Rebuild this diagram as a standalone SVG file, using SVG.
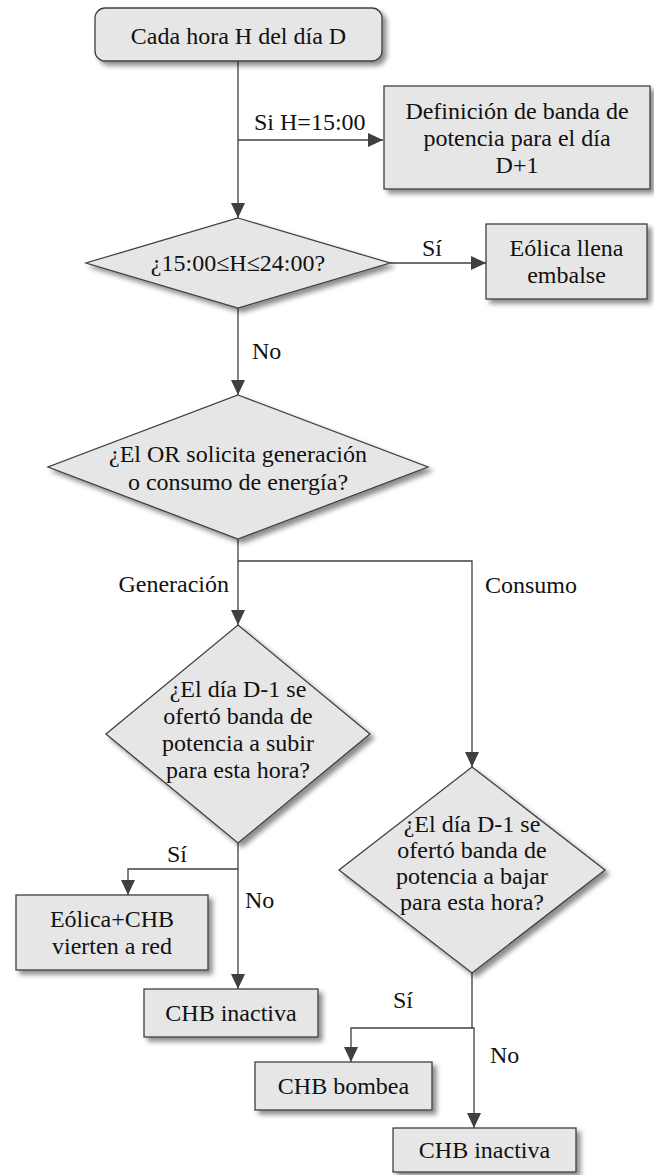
<svg xmlns="http://www.w3.org/2000/svg" width="654" height="1175" viewBox="0 0 654 1175">
<defs>
<style>
.n{fill:#e6e6e6;stroke:#404040;stroke-width:1.3;filter:url(#sh)}
.t{text-anchor:middle}
.c{fill:none;stroke:#404040;stroke-width:1.3}
</style>
<filter id="sh" x="-10%" y="-10%" width="130%" height="140%">
<feDropShadow dx="4" dy="4" stdDeviation="2.5" flood-color="#000" flood-opacity="0.45"/>
</filter>
<marker id="ar" viewBox="0 0 15 14" refX="15" refY="7" markerWidth="15" markerHeight="14" markerUnits="userSpaceOnUse" orient="auto">
<path d="M0,0 L15,7 L0,14 z" fill="#404040"/>
</marker>
</defs>
<rect width="654" height="1175" fill="#fff"/>
<g font-family="Liberation Serif, Times New Roman, Tinos, DejaVu Serif, serif" font-size="24" fill="#111">
<g id="connectors">
<path class="c" d="M238,61 V218" marker-end="url(#ar)"/>
<path class="c" d="M238,140 H383" marker-end="url(#ar)"/>
<path class="c" d="M390,263 H486" marker-end="url(#ar)"/>
<path class="c" d="M238,308 V395" marker-end="url(#ar)"/>
<path class="c" d="M238,539 V625" marker-end="url(#ar)"/>
<path class="c" d="M238,561 H472 V767" marker-end="url(#ar)"/>
<path class="c" d="M238,843 V989" marker-end="url(#ar)"/>
<path class="c" d="M238,869 H128 V895" marker-end="url(#ar)"/>
<path class="c" d="M472,973 V1028 H474 V1128" marker-end="url(#ar)"/>
<path class="c" d="M472,1028 H351 V1062" marker-end="url(#ar)"/>
<text x="254" y="130">Si H=15:00</text>
<text x="422" y="256">Sí</text>
<text x="252" y="359">No</text>
<text x="229" y="592" text-anchor="end">Generación</text>
<text x="485" y="593">Consumo</text>
<text x="167" y="862">Sí</text>
<text x="245" y="908">No</text>
<text x="393" y="1008">Sí</text>
<text x="490" y="1063">No</text>
</g>
<g id="start">
<rect class="n" x="95" y="8" width="287" height="53" rx="10"/>
<text class="t" x="238.5" y="44">Cada hora H del día D</text>
</g>
<g id="definicion">
<rect class="n" x="384" y="86" width="266" height="103"/>
<text class="t" x="517" y="119">Definición de banda de</text>
<text class="t" x="517" y="146">potencia para el día</text>
<text class="t" x="517" y="173">D+1</text>
</g>
<g id="dec-hora">
<polygon class="n" points="238,218 390,263 238,308 86,263"/>
<text class="t" x="238" y="271">¿15:00≤H≤24:00?</text>
</g>
<g id="eolica-llena">
<rect class="n" x="486" y="224" width="161" height="75"/>
<text class="t" x="566.5" y="256">Eólica llena</text>
<text class="t" x="566.5" y="283">embalse</text>
</g>
<g id="dec-or">
<polygon class="n" points="238,395 428,467 238,539 48,467"/>
<text class="t" x="238" y="462">¿El OR solicita generación</text>
<text class="t" x="238" y="490">o consumo de energía?</text>
</g>
<g id="dec-subir">
<polygon class="n" points="238,625 370,734 238,843 106,734"/>
<text class="t" x="238" y="697">¿El día D-1 se</text>
<text class="t" x="238" y="724">ofertó banda de</text>
<text class="t" x="238" y="751">potencia a subir</text>
<text class="t" x="238" y="778">para esta hora?</text>
</g>
<g id="eolica-chb">
<rect class="n" x="16" y="895" width="192" height="75"/>
<text class="t" x="112" y="927">Eólica+CHB</text>
<text class="t" x="112" y="954">vierten a red</text>
</g>
<g id="chb-inactiva-1">
<rect class="n" x="144" y="989" width="174" height="48"/>
<text class="t" x="231" y="1021">CHB inactiva</text>
</g>
<g id="dec-bajar">
<polygon class="n" points="472,767 605,870 472,973 339,870"/>
<text class="t" x="472" y="832">¿El día D-1 se</text>
<text class="t" x="472" y="858">ofertó banda de</text>
<text class="t" x="472" y="884">potencia a bajar</text>
<text class="t" x="472" y="910">para esta hora?</text>
</g>
<g id="chb-bombea">
<rect class="n" x="255" y="1062" width="177" height="48"/>
<text class="t" x="343.5" y="1094">CHB bombea</text>
</g>
<g id="chb-inactiva-2">
<rect class="n" x="393" y="1128" width="183" height="44"/>
<text class="t" x="484.5" y="1158">CHB inactiva</text>
</g>
</g>
</svg>
